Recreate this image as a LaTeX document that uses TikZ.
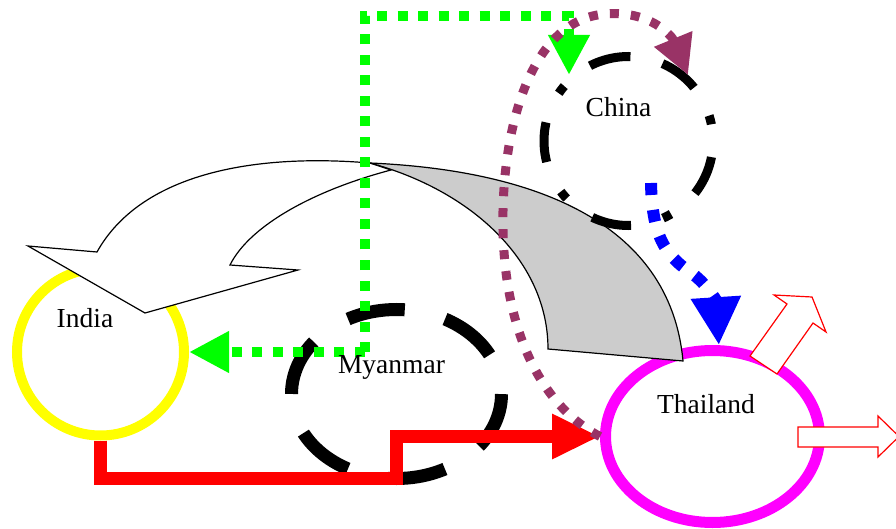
\documentclass[tikz,border=0pt]{standalone}
\usepackage{fontspec}
\setmainfont{Liberation Serif}
\usetikzlibrary{shapes.geometric,arrows.meta}
\definecolor{plum}{RGB}{153,51,102}
\definecolor{facegray}{RGB}{204,204,204}
\definecolor{ringyellow}{RGB}{255,255,0}
\definecolor{ringmagenta}{RGB}{255,0,255}
\definecolor{linered}{RGB}{255,0,0}
\definecolor{linegreen}{RGB}{0,255,0}
\definecolor{lineblue}{RGB}{0,0,255}
\tikzset{
  country/.style={ellipse, inner sep=0pt},
  countryname/.style={font=\fontsize{27.5}{30}\selectfont, anchor=base, inner sep=0pt},
  arrowface/.style={draw=black, line width=1.2pt, line join=miter},
  outarrow/.style={draw=linered, fill=white, line width=1.2pt, line join=miter},
  redline/.style={draw=linered, line width=13pt, line join=miter,
    -{Triangle[length=48pt,width=42pt]}},
  greenline/.style={draw=linegreen, line width=10pt, dash pattern=on 10pt off 10.5pt,
    -{Triangle[length=40pt,width=39pt]}},
  blueline/.style={draw=lineblue, line width=12pt, dash pattern=on 12pt off 15pt,
    -{Triangle[length=48pt,width=47pt]}},
  plumline/.style={draw=plum, line width=9pt, dash pattern=on 9pt off 12pt,
    -{Triangle[length=39pt,width=39pt]}},
  chinaline/.style={draw=black, line width=9pt,
    dash pattern=on 40pt off 33pt on 9pt off 32pt}
}
\begin{document}
\begin{tikzpicture}[x=1pt,y=1pt]
% page
\fill[white] (0,0) rectangle (896,-529);
\useasboundingbox (0,0) rectangle (896,-529);

% countries
\node[country, draw=ringyellow, line width=10pt, minimum width=167pt, minimum height=167pt]
  (india) at (100.5,-352) {};
\node[country, draw=ringmagenta, line width=11pt, minimum width=214pt, minimum height=172pt]
  (thailand) at (712.5,-436.5) {};
\node[country, draw=black, line width=13pt, minimum width=210pt, minimum height=169pt,
  dash pattern=on 58pt off 41.5pt, dash phase=58pt]
  (myanmar) at (396.5,-394) {};

% curved block arrow: top face
\draw[arrowface, fill=white]
  (370,-163) .. controls (250,-153) and (140,-175) .. (97,-252)
  -- (28,-246) -- (145,-313) -- (298,-270) -- (230,-265)
  .. controls (250,-225) and (315,-190) .. (391,-170) -- cycle;
% curved block arrow: side face
\draw[arrowface, fill=facegray]
  (370,-163) .. controls (530,-170) and (670,-220) .. (683,-361)
  -- (548,-349) .. controls (548,-260) and (470,-190) .. (370,-163) -- cycle;

% China, dash-dot outline starting at the top
\node[country, minimum width=178pt, minimum height=178pt] (china) at (628.5,-141) {};
\draw[chinaline] ([yshift=84.5pt]china.center) arc[start angle=90, delta angle=360, radius=84.5pt];

% India -> Thailand
\coordinate (redKnee) at (396,-478);
\draw[redline] (india.south) |- (redKnee) |- (thailand.west);

% Myanmar -> India, Myanmar -> China
\coordinate (greenFork) at (364.5,-352);
\coordinate (greenTurn) at (569,-16);
\coordinate (chinaEntry) at (569,-75);
\draw[greenline] (greenFork) -- (india);
\draw[greenline] (greenFork) |- (greenTurn) -- (chinaEntry);

% China -> Thailand
\coordinate (blueStart) at (651,-183);
\draw[blueline] (blueStart) .. controls (652,-235) and (665,-255) .. (690,-272)
  .. controls (705,-282) and (716,-300) .. (thailand.86);

% Thailand -> China
\coordinate (plumEnd) at (688,-75);
\draw[plumline] (thailand.west) .. controls (540,-405) and (505,-330) .. (503,-230)
  .. controls (501,-130) and (530,-20) .. (605,-14)
  .. controls (650,-10) and (672,-36) .. (plumEnd);

% outgoing block arrows
\draw[outarrow] (750,-356) -- (787,-304) -- (774,-295) -- (812,-297)
  -- (826,-332) -- (813,-323) -- (777,-374) -- cycle;
\draw[outarrow] (798,-427) -- (878,-427) -- (878,-416) -- (899,-436.5)
  -- (878,-457) -- (878,-447) -- (798,-447) -- cycle;

% names
\node[countryname] (indiaName) at (85,-327) {India};
\node[countryname] (myanmarName) at (391.5,-373) {Myanmar};
\node[countryname] (chinaName) at (618.5,-117) {China};
\node[countryname] (thailandName) at (706,-413) {Thailand};
\end{tikzpicture}
\end{document}
